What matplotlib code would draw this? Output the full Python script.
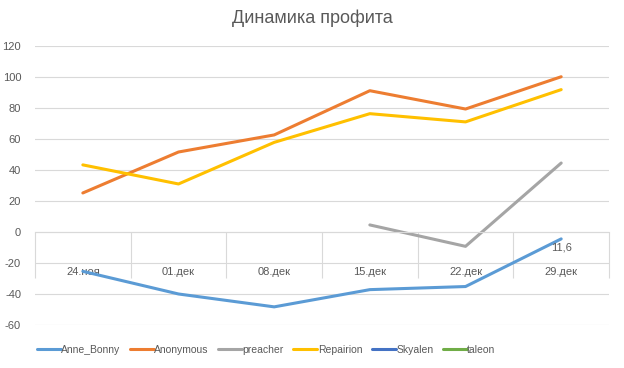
import numpy as np
from matplotlib import pyplot as plt
from matplotlib.ticker import FixedLocator

plt.rcParams['font.family'] = ['Liberation Sans', 'DejaVu Sans']
plt.rcParams['axes.unicode_minus'] = False

dates = ["24.ноя", "01.дек", "08.дек", "15.дек", "22.дек", "29.дек"]
anne_bonny = [-25.4, -40.0, -48.3, -37.2, -35.2, -4.5]
anonymous = [25.1, 51.5, 62.5, 91.0, 79.2, 100.0]
preacher = [np.nan, np.nan, np.nan, 4.5, -9.3, 44.4]
repairion = [43.2, 30.9, 57.7, 76.2, 70.9, 91.7]
skyalen = [np.nan] * 6
taleon = [np.nan] * 6
label_text = "11,6"

series = [
    ("Anne_Bonny", anne_bonny, "#5B9BD5"),
    ("Anonymous", anonymous, "#ED7D31"),
    ("preacher", preacher, "#A5A5A5"),
    ("Repairion", repairion, "#FFC000"),
    ("Skyalen", skyalen, "#4472C4"),
    ("taleon", taleon, "#70AD47"),
]

grid_col = "#D9D9D9"
text_col = "#595959"

fig = plt.figure(figsize=(6.24, 3.68), dpi=100)
ax = fig.add_axes([0.0561, 0.1168, 0.9199, 0.759])

x = np.arange(len(dates))
for name, vals, col in series:
    ax.plot(x, vals, color=col, linewidth=2.2, label=name, solid_capstyle="round")

ax.annotate(label_text, (x[-1], anne_bonny[-1]), xytext=(0, -6), textcoords="offset points",
            ha="center", va="center", fontsize=8, color=text_col)

ax.set_xlim(-0.5, len(dates) - 0.5)
ax.set_ylim(-60, 120)
ax.set_yticks(np.arange(-60, 121, 20))
ax.yaxis.grid(True, color=grid_col, linewidth=0.8)
ax.set_axisbelow(True)
ax.tick_params(axis="y", length=0, labelsize=8, labelcolor=text_col, pad=10)

for s in ["top", "right", "left"]:
    ax.spines[s].set_visible(False)
ax.spines["bottom"].set_position(("data", 0))
ax.spines["bottom"].set_color(grid_col)
ax.spines["bottom"].set_linewidth(0.8)

ax.set_xticks(x)
ax.set_xticklabels(dates)
ax.xaxis.set_minor_locator(FixedLocator(np.arange(-0.5, len(dates), 1.0)))
ax.tick_params(axis="x", which="major", length=0, labelsize=8, labelcolor=text_col, pad=25)
ax.tick_params(axis="x", which="minor", length=33, color=grid_col, width=0.8, direction="out")

fig.suptitle("Динамика профита", x=0.5, y=0.951, va="center", fontsize=13, color=text_col)

leg = fig.legend(loc="center left", bbox_to_anchor=(0.059, 0.049), ncol=6, frameon=False,
                 fontsize=7.5, labelcolor=text_col, handlelength=2.3, handletextpad=0.05,
                 columnspacing=0.9, borderaxespad=0, borderpad=0)

fig.savefig("out.png", dpi=100)
